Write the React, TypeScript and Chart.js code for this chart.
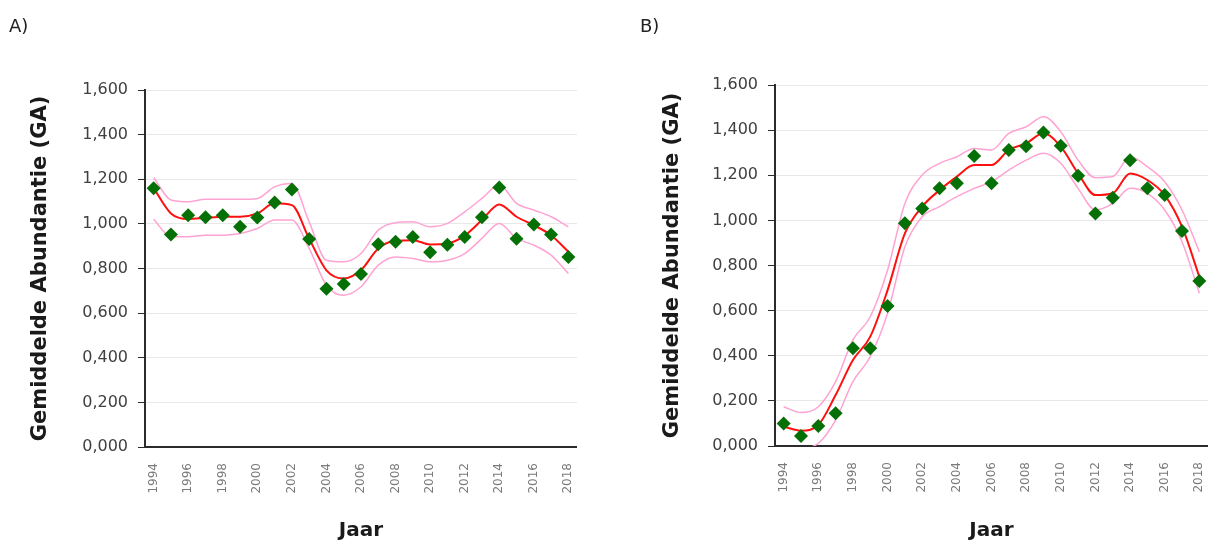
import { useEffect, useRef } from "react";
import { Chart, registerables } from "chart.js";

Chart.register(...registerables);

const years = [
  "1994", "1995", "1996", "1997", "1998", "1999", "2000", "2001", "2002", "2003",
  "2004", "2005", "2006", "2007", "2008", "2009", "2010", "2011", "2012", "2013",
  "2014", "2015", "2016", "2017", "2018",
];

const aObserved = [1.160, 0.952, 1.039, 1.030, 1.039, 0.987, 1.029, 1.096, 1.154, 0.932, 0.709, 0.731, 0.775, 0.909, 0.920, 0.941, 0.873, 0.906, 0.941, 1.030, 1.163, 0.933, 0.997, 0.952, 0.852];
const aTrend = [1.160, 1.047, 1.022, 1.027, 1.032, 1.032, 1.047, 1.092, 1.084, 0.934, 0.792, 0.755, 0.793, 0.890, 0.924, 0.927, 0.908, 0.912, 0.947, 1.017, 1.087, 1.032, 0.994, 0.949, 0.875];
const aUpper = [1.208, 1.107, 1.099, 1.110, 1.110, 1.110, 1.114, 1.166, 1.181, 1.009, 0.837, 0.830, 0.867, 0.972, 1.005, 1.009, 0.987, 1.002, 1.054, 1.114, 1.174, 1.092, 1.062, 1.032, 0.987];
const aLower = [1.021, 0.942, 0.942, 0.949, 0.949, 0.957, 0.979, 1.017, 1.017, 0.890, 0.725, 0.680, 0.718, 0.815, 0.852, 0.845, 0.830, 0.837, 0.867, 0.935, 1.002, 0.935, 0.905, 0.860, 0.778];

const bObserved = [0.100, 0.044, 0.089, 0.145, 0.433, 0.433, 0.620, 0.987, 1.053, 1.142, 1.164, 1.285, 1.164, 1.312, 1.329, 1.389, 1.331, 1.198, 1.031, 1.100, 1.267, 1.142, 1.112, 0.953, 0.731];
const bTrend = [0.086, 0.068, 0.093, 0.226, 0.381, 0.485, 0.691, 0.942, 1.061, 1.134, 1.194, 1.245, 1.245, 1.312, 1.341, 1.386, 1.327, 1.208, 1.112, 1.120, 1.208, 1.179, 1.112, 0.972, 0.750];
const bUpper = [0.174, 0.148, 0.174, 0.285, 0.470, 0.573, 0.780, 1.075, 1.201, 1.253, 1.282, 1.319, 1.312, 1.386, 1.415, 1.459, 1.393, 1.267, 1.189, 1.194, 1.282, 1.238, 1.171, 1.046, 0.861];
const bLower = [-0.010, -0.010, 0.012, 0.115, 0.285, 0.396, 0.588, 0.883, 1.016, 1.061, 1.105, 1.142, 1.171, 1.223, 1.267, 1.297, 1.253, 1.142, 1.046, 1.075, 1.142, 1.120, 1.046, 0.905, 0.677];

const yMin = 0;
const yMax = 1.6;
const yStep = 0.2;
const yTitle = "Gemiddelde Abundantie (GA)";
const xTitle = "Jaar";

type PanelProps = {
  observed: number[];
  trend: number[];
  upper: number[];
  lower: number[];
  left: number;
  width: number;
  padTop: number;
  xAxisHeight: number;
  yTitlePad: number;
};

function Panel(p: PanelProps) {
  const ref = useRef<HTMLCanvasElement | null>(null);
  useEffect(() => {
    if (!ref.current) return;
    const axisColor = "#2b2b2b";
    const chart = new Chart(ref.current, {
      type: "line",
      data: {
        labels: years,
        datasets: [
          {
            data: p.observed,
            showLine: false,
            pointStyle: "rectRot",
            pointRadius: 7,
            pointBackgroundColor: "#057005",
            pointBorderColor: "#057005",
            pointBorderWidth: 0,
          },
          {
            data: p.trend,
            borderColor: "#ff1010",
            borderWidth: 2,
            pointRadius: 0,
            cubicInterpolationMode: "monotone",
          },
          {
            data: p.upper,
            borderColor: "#ffa3d2",
            borderWidth: 1.5,
            pointRadius: 0,
            cubicInterpolationMode: "monotone",
          },
          {
            data: p.lower,
            borderColor: "#ffa3d2",
            borderWidth: 1.5,
            pointRadius: 0,
            cubicInterpolationMode: "monotone",
          },
        ],
      },
      options: {
        animation: false,
        responsive: false,
        layout: { autoPadding: false, padding: { top: p.padTop, left: 0, right: 0, bottom: 0 } },
        plugins: { legend: { display: false }, tooltip: { enabled: false } },
        scales: {
          x: {
            offset: true,
            grid: { display: false, drawTicks: false },
            border: { display: true, color: axisColor, width: 2 },
            ticks: {
              autoSkip: false,
              maxRotation: 90,
              minRotation: 90,
              padding: 16,
              color: "#7a7a7a",
              font: { family: "DejaVu Sans", size: 12 },
              callback: (_v: any, i: number) => (i % 2 === 0 ? years[i] : ""),
            },
            title: {
              display: true,
              text: xTitle,
              color: "#1a1a1a",
              font: { family: "DejaVu Sans", size: 20, weight: "bold" },
              padding: { top: 0, bottom: 2 },
            },
            afterFit: (s: any) => {
              s.height = p.xAxisHeight;
              s.paddingLeft = 0;
              s.paddingRight = 0;
            },
          },
          y: {
            min: yMin,
            max: yMax,
            ticks: {
              stepSize: yStep,
              padding: 10,
              color: "#404040",
              font: { family: "DejaVu Sans", size: 16 },
              callback: (v: any) => Number(v).toFixed(3).replace(".", ","),
            },
            grid: { color: "#e8e8e8", tickColor: axisColor, tickLength: 7, lineWidth: 1 },
            border: { display: true, color: axisColor, width: 2 },
            title: {
              display: true,
              text: yTitle,
              color: "#1a1a1a",
              font: { family: "DejaVu Sans", size: 21, weight: "bold" },
              padding: { top: p.yTitlePad, bottom: 0 },
            },
            afterFit: (s: any) => {
              s.width = 145;
              s.paddingTop = 0;
              s.paddingBottom = 0;
            },
          },
        },
      },
    } as any);
    return () => chart.destroy();
  }, []);
  return (
    <canvas
      ref={ref}
      width={p.width}
      height={545}
      style={{ position: "absolute", left: p.left, top: 0, width: p.width, height: 545 }}
    />
  );
}

export default function App() {
  const labelStyle: any = {
    position: "absolute",
    top: 15,
    font: '18px "DejaVu Sans"',
    color: "#222",
  };
  return (
    <div
      style={{
        position: "fixed",
        left: 0,
        top: 0,
        width: 1209,
        height: 545,
        background: "#fff",
        overflow: "hidden",
      }}
    >
      <Panel observed={aObserved} trend={aTrend} upper={aUpper} lower={aLower} left={0} width={577} padTop={90} xAxisHeight={98} yTitlePad={28} />
      <Panel observed={bObserved} trend={bTrend} upper={bUpper} lower={bLower} left={630} width={578} padTop={85} xAxisHeight={99} yTitlePad={30} />
      <div style={{ ...labelStyle, left: 9 }}>A)</div>
      <div style={{ ...labelStyle, left: 640 }}>B)</div>
    </div>
  );
}
